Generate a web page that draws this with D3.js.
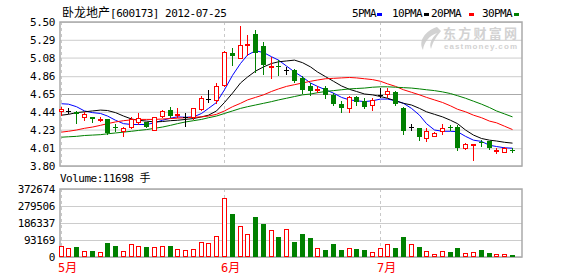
<!DOCTYPE html>
<html>
<head>
<meta charset="utf-8">
<script src="https://cdn.jsdelivr.net/npm/d3@7/dist/d3.min.js"></script>
<style>
body { margin: 0; background: #fff; }
svg text { font-family: "DejaVu Sans Mono", "Noto Sans CJK SC", monospace; }
</style>
</head>
<body>
<div id="chart"></div>
<script>
// trading days shown (2012)
var dates = ["05-03","05-04","05-07","05-08","05-09","05-10","05-11","05-14","05-15","05-16","05-17","05-18","05-21","05-22","05-23","05-24","05-25","05-28","05-29","05-30","05-31",
  "06-01","06-04","06-05","06-06","06-07","06-08","06-11","06-12","06-13","06-14","06-15","06-18","06-19","06-20","06-21","06-25","06-26","06-27","06-28","06-29",
  "07-02","07-03","07-04","07-05","07-06","07-09","07-10","07-11","07-12","07-13","07-16","07-17","07-18","07-19","07-20","07-23","07-24","07-25"];

var opens = [4.45,4.45,4.44,4.375,4.375,4.34,4.35,4.255,4.21,4.265,4.32,4.315,4.23,4.395,4.46,4.40,4.38,4.38,4.47,4.59,4.58,
  4.76,5.13,5.08,5.225,5.36,5.22,4.975,4.975,4.93,4.93,4.84,4.74,4.695,4.72,4.64,4.53,4.49,4.61,4.57,4.52,
  4.64,4.65,4.67,4.49,4.265,4.245,4.13,4.155,4.215,4.255,4.265,4.01,4.045,4.08,4.09,3.975,3.96,3.985];
var highs = [4.50,4.48,4.45,4.44,4.38,4.38,4.36,4.29,4.26,4.38,4.42,4.32,4.38,4.46,4.50,4.48,4.42,4.49,4.63,4.70,4.78,
  5.16,5.19,5.45,5.35,5.40,5.26,5.09,5.05,4.97,4.95,4.86,4.78,4.74,4.74,4.66,4.57,4.63,4.63,4.60,4.60,
  4.72,4.72,4.69,4.50,4.30,4.25,4.25,4.20,4.29,4.28,4.28,4.07,4.06,4.11,4.10,4.01,4.02,4.01];
var lows = [4.40,4.42,4.31,4.34,4.32,4.33,4.18,4.21,4.16,4.25,4.30,4.26,4.22,4.38,4.38,4.38,4.27,4.36,4.46,4.56,4.54,
  4.75,4.99,5.07,5.11,4.91,4.89,4.84,4.87,4.89,4.79,4.66,4.64,4.67,4.60,4.52,4.44,4.44,4.52,4.49,4.46,
  4.61,4.62,4.52,4.18,4.23,4.11,4.10,4.15,4.18,4.22,3.99,4.00,3.87,4.04,4.00,3.95,3.96,3.96];
var closes = [4.47,4.45,4.41,4.41,4.35,4.36,4.19,4.245,4.25,4.355,4.37,4.265,4.375,4.45,4.39,4.41,4.38,4.48,4.60,4.59,4.745,
  5.15,5.10,5.23,5.235,5.13,4.99,4.985,4.965,4.93,4.80,4.70,4.69,4.705,4.64,4.53,4.48,4.61,4.56,4.50,4.58,
  4.64,4.68,4.53,4.21,4.265,4.14,4.215,4.19,4.25,4.245,4.01,4.055,4.055,4.07,4.01,3.985,4.01,3.975];
var volumes = [59000,47900,53400,35000,31300,29500,75600,59000,35000,73700,62700,53400,53400,62700,59000,46100,40500,46100,84800,79200,114300,
  322500,235900,167700,123500,219300,180600,147400,108700,153000,81100,125300,103200,51600,36900,70000,36900,51600,42400,36900,29500,
  47900,70000,47900,108700,70000,53400,35000,14700,35000,25800,47900,20300,29500,36900,20300,14700,18400,11698];

// moving averages
var ma5 = [4.535,4.53,4.50,4.45,4.43,4.42,4.39,4.34,4.30,4.29,4.29,4.29,4.31,4.34,4.365,4.38,4.375,4.38,4.42,4.48,4.55,
  4.70,4.87,5.01,5.11,5.16,5.14,5.09,5.05,4.98,4.91,4.85,4.78,4.74,4.70,4.66,4.61,4.58,4.57,4.56,4.57,
  4.59,4.59,4.57,4.54,4.48,4.40,4.30,4.225,4.21,4.21,4.205,4.15,4.105,4.09,4.045,4.03,4.015,4.01];
var ma10 = [4.40,4.41,4.43,4.44,4.45,4.46,4.455,4.43,4.39,4.355,4.34,4.33,4.32,4.325,4.335,4.34,4.35,4.36,4.38,4.40,4.45,
  4.55,4.66,4.78,4.85,4.92,4.97,5.01,5.03,5.04,5.05,5.02,4.97,4.91,4.855,4.80,4.745,4.705,4.68,4.65,4.64,
  4.62,4.60,4.57,4.54,4.52,4.48,4.44,4.41,4.38,4.34,4.30,4.225,4.165,4.125,4.105,4.095,4.08,4.07];
var ma20 = [4.20,4.21,4.225,4.245,4.26,4.28,4.30,4.32,4.335,4.345,4.35,4.35,4.35,4.355,4.36,4.365,4.37,4.375,4.38,4.39,4.41,
  4.45,4.50,4.54,4.58,4.61,4.64,4.68,4.71,4.74,4.76,4.78,4.80,4.815,4.83,4.835,4.84,4.845,4.84,4.83,4.82,
  4.80,4.77,4.74,4.70,4.67,4.64,4.61,4.58,4.55,4.51,4.47,4.44,4.40,4.37,4.33,4.31,4.27,4.23];
var ma30 = [4.14,4.145,4.15,4.16,4.165,4.17,4.18,4.19,4.20,4.21,4.22,4.23,4.245,4.26,4.28,4.30,4.32,4.335,4.35,4.37,4.39,
  4.42,4.45,4.48,4.50,4.52,4.54,4.56,4.58,4.60,4.62,4.64,4.65,4.665,4.68,4.69,4.70,4.71,4.715,4.72,4.73,
  4.735,4.735,4.73,4.725,4.72,4.71,4.70,4.69,4.675,4.655,4.63,4.60,4.565,4.53,4.49,4.45,4.415,4.38];

var priceTicks = [3.80, 4.01, 4.23, 4.44, 4.65, 4.86, 5.08, 5.29, 5.50];
var volTicks = [0, 93169, 186337, 279506, 372674];
var maLabels = ["5PMA", "10PMA", "20PMA", "30PMA"];
var maColors = ["#0000ff", "#000000", "#ff0000", "#008000"];

var left = 60, right = 522,
    pTop = 22, pBottom = 166,
    vTop = 189, vBottom = 257;

var svg = d3.select("#chart")
  .append("svg")
    .attr("width", 578)
    .attr("height", 276);

var n = dates.length;
var x = d3.scaleBand()
  .domain(d3.range(n))
  .range([58.7, 515.3])
  .paddingInner(0.3);
var y = d3.scaleLinear().domain([3.80, 5.50]).range([pBottom, pTop]);
var yv = d3.scaleLinear().domain([0, 372674]).range([vBottom, vTop]);

var bw = Math.round(x.bandwidth());
function bx(i) { return Math.round(x(i)); }
function cx(i) { return bx(i) + 2.5; }
function py(v) { return Math.round(y(v)); }

// watermark
var wm = svg.append("g").attr("fill", "#d2d2d2");
wm.append("path")
  .attr("d", "M437,27 C425,31 418,41 423,50 C424,42 429,36 437,33 C431,39 429,44 431,49 C433,41 437,36 441,31 Z");
wm.append("text")
  .attr("x", 443).attr("y", 38)
  .attr("font-size", 13).attr("font-weight", "bold")
  .attr("textLength", 74)
  .style("font-family", "'Noto Sans CJK SC'")
  .text("东方财富网");
wm.append("text")
  .attr("x", 444).attr("y", 49)
  .attr("font-size", 8).attr("font-weight", "bold")
  .attr("textLength", 73)
  .style("font-family", "'Liberation Sans'")
  .text("eastmoney.com");

// grids + labels
function panelAxis(scale, ticks, fmt, mid) {
  var g = svg.append("g")
    .attr("transform", "translate(" + left + ",0)")
    .call(d3.axisLeft(scale).tickValues(ticks).tickSize(-(right - left)).tickPadding(5).tickFormat(fmt));
  g.attr("font-family", null).attr("font-size", 11);
  g.select(".domain").remove();
  g.selectAll("line").attr("stroke", function(d) { return d === mid ? "#aaa" : "#ccc"; });
  g.selectAll("text").attr("fill", "#000").style("letter-spacing", "-0.4px");
  return g;
}
panelAxis(y, priceTicks, d3.format(".2f"), 4.65);
panelAxis(yv, volTicks, function(d) { return d; }, -1);

// month separators
var monthStarts = d3.range(n).filter(function(i) {
  return i === 0 || dates[i].slice(0, 2) !== dates[i - 1].slice(0, 2);
});
[[pTop, pBottom], [vTop, vBottom]].forEach(function(p) {
  svg.selectAll("mysep")
    .data(monthStarts)
    .enter()
    .append("line")
      .attr("x1", cx).attr("x2", cx)
      .attr("y1", p[0]).attr("y2", p[1])
      .attr("stroke", "#c8c8c8")
      .attr("stroke-dasharray", "3,3");
});
svg.selectAll("mymonth")
  .data(monthStarts)
  .enter()
  .append("text")
    .attr("x", function(i) { return cx(i) - 3.5; })
    .attr("y", 272)
    .attr("font-size", 12)
    .attr("fill", "#ff0000")
    .text(function(i) { return (+dates[i].slice(0, 2)) + "月"; });

// frames
[[pTop, pBottom], [vTop, vBottom]].forEach(function(p) {
  svg.append("rect")
    .attr("x", left).attr("y", p[0])
    .attr("width", right - left).attr("height", p[1] - p[0])
    .attr("fill", "none")
    .attr("stroke", "#aaa")
    .attr("stroke-width", 1.5);
});

// moving averages
var maData = [ma5, ma10, ma20, ma30];
maData.forEach(function(arr, k) {
  svg.append("path")
    .datum(arr)
    .attr("fill", "none")
    .attr("stroke", maColors[k])
    .attr("stroke-width", 1)
    .attr("d", d3.line()
      .x(function(d, i) { return cx(i); })
      .y(function(d) { return y(d); }));
});

// candles
var idx = d3.range(n);
function col(i) {
  if (closes[i] === opens[i]) return "#000000";
  return closes[i] > opens[i] ? "#ff0000" : "#008000";
}
svg.selectAll("mywick")
  .data(idx)
  .enter()
  .append("line")
    .attr("x1", cx).attr("x2", cx)
    .attr("y1", function(i) { return py(highs[i]); })
    .attr("y2", function(i) { return py(lows[i]) + 1; })
    .attr("stroke", col);

svg.selectAll("mybody")
  .data(idx.filter(function(i) { return closes[i] !== opens[i]; }))
  .enter()
  .append("rect")
    .attr("x", function(i) { return closes[i] > opens[i] ? bx(i) + 0.5 : bx(i); })
    .attr("y", function(i) { return closes[i] > opens[i] ? py(closes[i]) + 0.5 : py(opens[i]); })
    .attr("width", function(i) { return closes[i] > opens[i] ? bw - 1 : bw; })
    .attr("height", function(i) {
      return Math.max(1, Math.abs(py(opens[i]) - py(closes[i])));
    })
    .attr("fill", function(i) { return closes[i] > opens[i] ? "#fff" : "#008000"; })
    .attr("stroke", function(i) { return closes[i] > opens[i] ? "#ff0000" : "none"; });

svg.selectAll("mydoji")
  .data(idx.filter(function(i) { return closes[i] === opens[i]; }))
  .enter()
  .append("line")
    .attr("x1", function(i) { return bx(i); })
    .attr("x2", function(i) { return bx(i) + bw; })
    .attr("y1", function(i) { return py(closes[i]) + 0.5; })
    .attr("y2", function(i) { return py(closes[i]) + 0.5; })
    .attr("stroke", "#000");

// volume bars
svg.selectAll("myvol")
  .data(idx)
  .enter()
  .append("rect")
    .attr("x", function(i) { return closes[i] >= opens[i] ? bx(i) + 0.5 : bx(i); })
    .attr("y", function(i) { return Math.round(yv(volumes[i])) + (closes[i] >= opens[i] ? 0.5 : 0); })
    .attr("width", function(i) { return closes[i] >= opens[i] ? bw - 1 : bw; })
    .attr("height", function(i) {
      var h = vBottom - Math.round(yv(volumes[i]));
      return closes[i] >= opens[i] ? Math.max(1, h - 1) : h;
    })
    .attr("fill", function(i) { return closes[i] >= opens[i] ? "#fff" : "#008000"; })
    .attr("stroke", function(i) { return closes[i] >= opens[i] ? "#ff0000" : "none"; });

// title, legend, volume caption
var title = svg.append("text").attr("x", 62).attr("y", 17);
title.append("tspan").attr("font-size", 12).style("font-family", "'Noto Sans CJK SC'").text("卧龙地产");
title.append("tspan").attr("font-size", 11).style("letter-spacing", "-0.5px").text("[600173] 2012-07-25");

var legX = [352, 392, 431, 482], swX = [377, 424, 469, 514];
maLabels.forEach(function(lab, k) {
  svg.append("text")
    .attr("x", legX[k]).attr("y", 17)
    .attr("font-size", 11)
    .style("letter-spacing", "-0.6px")
    .text(lab);
  svg.append("rect")
    .attr("x", swX[k]).attr("y", 13)
    .attr("width", 5).attr("height", 3)
    .attr("fill", maColors[k]);
});

svg.append("text")
  .attr("x", 60).attr("y", 182)
  .attr("font-size", 11)
  .style("letter-spacing", "-0.5px")
  .text("Volume:" + volumes[n - 1] + " 手");
</script>
</body>
</html>
